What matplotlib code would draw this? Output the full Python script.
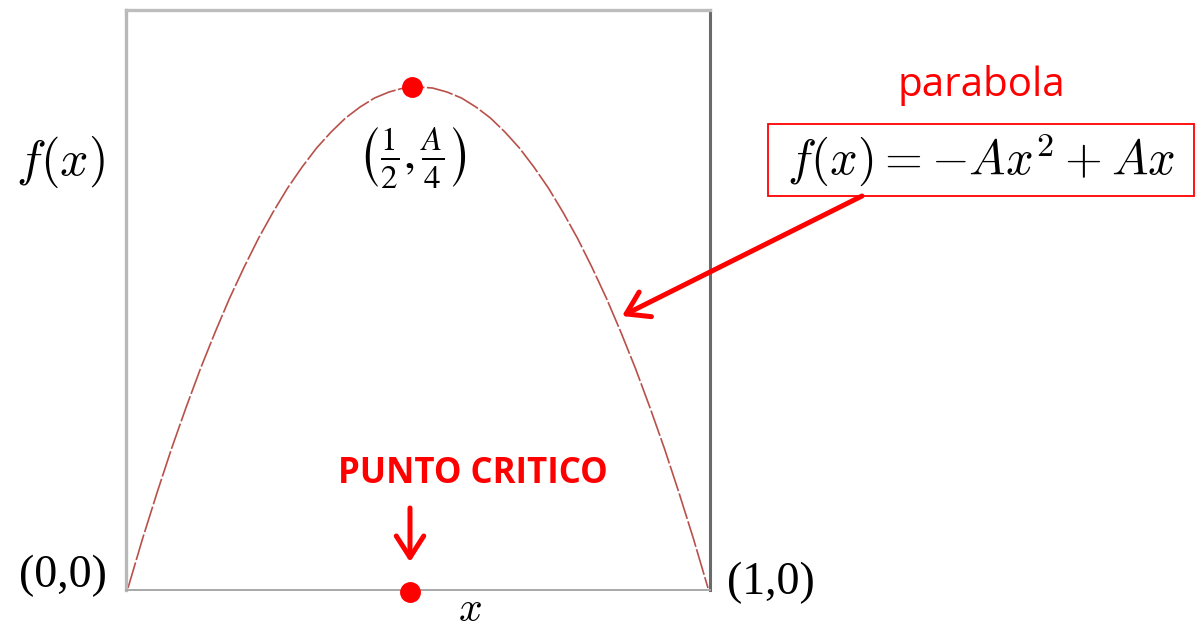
import matplotlib

matplotlib.use("Agg")
import matplotlib.pyplot as plt
from matplotlib.patches import FancyArrowPatch, Rectangle

# curve (peak scaled to 1), x from 0 to 1 in steps of 0.025
curve_x = [0.000, 0.025, 0.050, 0.075, 0.100, 0.125, 0.150, 0.175, 0.200, 0.225,
           0.250, 0.275, 0.300, 0.325, 0.350, 0.375, 0.400, 0.425, 0.450, 0.475,
           0.500, 0.525, 0.550, 0.575, 0.600, 0.625, 0.650, 0.675, 0.700, 0.725,
           0.750, 0.775, 0.800, 0.825, 0.850, 0.875, 0.900, 0.925, 0.950, 0.975,
           1.000]
curve_y = [0.000, 0.098, 0.190, 0.278, 0.360, 0.438, 0.510, 0.578, 0.640, 0.698,
           0.750, 0.798, 0.840, 0.878, 0.910, 0.938, 0.960, 0.978, 0.990, 0.998,
           1.000, 0.998, 0.990, 0.978, 0.960, 0.938, 0.910, 0.878, 0.840, 0.798,
           0.750, 0.698, 0.640, 0.578, 0.510, 0.438, 0.360, 0.278, 0.190, 0.098,
           0.000]
vertex = (0.49, 1.0)
critical = (0.486, -0.008)

RED = "#ff0000"
W, H = 1195, 631

plt.rcParams["mathtext.fontset"] = "cm"

fig = plt.figure(figsize=(W / 100, H / 100), dpi=100)
ax = fig.add_axes([126 / W, 1 - 590 / H, 584 / W, 580 / H])
ax.set_xlim(-2 / 580, 1 + 2 / 580)
ax.set_ylim(-2 / 501, 1 + 77 / 501)
ax.set_xticks([])
ax.set_yticks([])
for side, color, lw in (("left", "#b8b8b8", 2.4), ("top", "#bdbdbd", 2.4),
                        ("right", "#6a6a6a", 2.2), ("bottom", "#a8a8a8", 1.4)):
    ax.spines[side].set_color(color)
    ax.spines[side].set_linewidth(lw)

ax.plot(curve_x, curve_y, color="#b9504a", linewidth=1.2, dashes=(16, 1.5), zorder=2)
ax.plot(*vertex, "o", color=RED, markersize=14, zorder=4)
ax.plot(*critical, "o", color=RED, markersize=14, clip_on=False, zorder=4)


# labels in figure pixel coordinates
def fx(px):
    return px / W


def fy(py):
    return 1 - py / H


fig.text(fx(61), fy(162), r"$f(x)$", fontsize=36, ha="center", va="center")
fig.text(fx(412), fy(157), r"$\left(\frac{1}{2},\frac{A}{4}\right)$",
         fontsize=34, ha="center", va="center", math_fontfamily="stix")
fig.text(fx(470), fy(609), r"$x$", fontsize=30, ha="center", va="center")
fig.text(fx(63), fy(576), "(0,0)", fontsize=33, ha="center", va="center",
         family="Liberation Serif")
fig.text(fx(771), fy(583), "(1,0)", fontsize=33, ha="center", va="center",
         family="Liberation Serif")

fig.text(fx(981), fy(86), "parabola", fontsize=29, ha="center", va="center",
         color=RED, family="Open Sans")
fig.text(fx(981), fy(160), r"$f(x)=-Ax^2+Ax$", fontsize=35, ha="center",
         va="center")
fig.patches.append(Rectangle((fx(768), fy(196)), fx(1194) - fx(768),
                             fy(124) - fy(196), transform=fig.transFigure,
                             fill=False, edgecolor=RED, linewidth=1.3))

fig.text(fx(473), fy(474), "PUNTO CRITICO", fontsize=25, ha="center",
         va="center", color=RED, family="Open Sans", fontweight="bold")

arrow_style = dict(arrowstyle="->,head_length=0.7,head_width=0.45", color=RED,
                   linewidth=3.6, shrinkA=0, shrinkB=0, capstyle="round",
                   joinstyle="round")
fig.add_artist(FancyArrowPatch(
    (fx(862), fy(196)), (fx(622), fy(316)), transform=fig.transFigure,
    mutation_scale=22, **arrow_style))
fig.add_artist(FancyArrowPatch(
    (fx(410), fy(508)), (fx(410), fy(562)), transform=fig.transFigure,
    mutation_scale=22, **arrow_style))

fig.savefig("out.png", dpi=100)
